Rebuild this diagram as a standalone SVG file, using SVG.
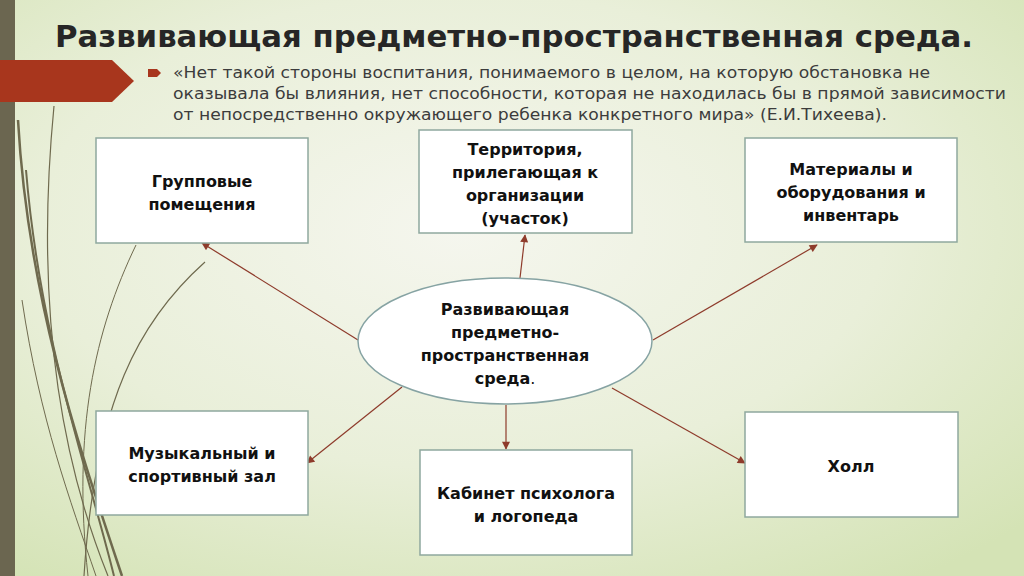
<svg xmlns="http://www.w3.org/2000/svg" width="1024" height="576" viewBox="0 0 1024 576">
<style>
.box{fill:#ffffff;stroke:#8fa89e;stroke-width:1.5}
.lbl{font-family:"DejaVu Sans","Liberation Sans",sans-serif;font-weight:bold;font-size:16px;fill:#111111;text-anchor:middle}
.quote{font-family:"DejaVu Sans","Liberation Sans",sans-serif;font-size:16.5px;fill:#3c3c3c}
.con{stroke:#8e3b2b;stroke-width:1.2;fill:none;marker-end:url(#ah)}
.curve{fill:none;stroke:#6f6a4e}
</style>
<defs>
<radialGradient id="bg" cx="0.45" cy="0.4" r="0.75">
<stop offset="0" stop-color="#f5f6ee"/>
<stop offset="0.55" stop-color="#e9efd9"/>
<stop offset="1" stop-color="#d4e3b5"/>
</radialGradient>
<marker id="ah" viewBox="0 0 10 10" refX="9" refY="5" markerWidth="9" markerHeight="8" markerUnits="userSpaceOnUse" orient="auto">
<path d="M0 0 L10 5 L0 10 Z" fill="#8e3b2b"/>
</marker>
</defs>
<rect x="0" y="0" width="1024" height="576" fill="url(#bg)"/>
<g id="decor">
<rect x="0" y="0" width="15" height="576" fill="#6b6650"/>
<path class="curve" stroke-width="2.5" d="M18 120 C28 300 80 450 122 576"/>
<path class="curve" stroke-width="2" d="M26 170 C40 340 88 470 114 576"/>
<path class="curve" stroke-width="1.2" d="M54 106 C40 250 45 420 108 576"/>
<path class="curve" stroke-width="1" stroke="#9a9878" d="M22 300 C40 420 70 500 96 576"/>
<path class="curve" stroke-width="1.2" d="M205 262 C140 320 95 400 84 576"/>
<path class="curve" stroke-width="1" stroke="#b9bda0" d="M136 245 C95 330 72 430 88 576"/>
<path fill="#a8361d" d="M0 60 L112 60 L134 81 L112 102 L0 102 Z"/>
</g>
<text x="55" y="47" textLength="918" lengthAdjust="spacingAndGlyphs" style="font-family:'DejaVu Sans','Liberation Sans',sans-serif;font-weight:bold;font-size:31px;fill:#262626">Развивающая предметно-пространственная среда.</text>
<path d="M148 69 L157 69 L161 73 L157 77 L148 77 Z" fill="#a8361d"/>
<text class="quote" x="173" y="78" textLength="757" lengthAdjust="spacingAndGlyphs">«Нет такой стороны воспитания, понимаемого в целом, на которую обстановка не</text>
<text class="quote" x="173" y="99" textLength="833" lengthAdjust="spacingAndGlyphs">оказывала бы влияния, нет способности, которая не находилась бы в прямой зависимости</text>
<text class="quote" x="173" y="120" textLength="714" lengthAdjust="spacingAndGlyphs">от непосредственно окружающего ребенка конкретного мира» (Е.И.Тихеева).</text>
<g id="connectors">
<line class="con" x1="358" y1="340" x2="202" y2="243"/>
<line class="con" x1="520" y1="278" x2="525" y2="235"/>
<line class="con" x1="653" y1="340" x2="817" y2="245"/>
<line class="con" x1="402" y1="387" x2="307" y2="463"/>
<line class="con" x1="506" y1="405" x2="506" y2="449"/>
<line class="con" x1="612" y1="388" x2="745" y2="463"/>
</g>
<g id="center">
<ellipse cx="505" cy="341" rx="147" ry="63" fill="#ffffff" stroke="#86a3a3" stroke-width="1.5"/>
<text class="lbl" x="505" y="315">Развивающая</text>
<text class="lbl" x="505" y="338">предметно-</text>
<text class="lbl" x="505" y="361">пространственная</text>
<text class="lbl" x="505" y="384">среда<tspan font-weight="normal">.</tspan></text>
</g>
<g id="group-rooms">
<rect class="box" x="96" y="138" width="212" height="105"/>
<text class="lbl" x="202" y="187">Групповые</text>
<text class="lbl" x="202" y="210">помещения</text>
</g>
<g id="territory">
<rect class="box" x="419" y="130" width="213" height="103"/>
<text class="lbl" x="525" y="155">Территория,</text>
<text class="lbl" x="525" y="178">прилегающая к</text>
<text class="lbl" x="525" y="201">организации</text>
<text class="lbl" x="525" y="224">(участок)</text>
</g>
<g id="materials">
<rect class="box" x="745" y="138" width="212" height="104"/>
<text class="lbl" x="851" y="175">Материалы и</text>
<text class="lbl" x="851" y="198">оборудования и</text>
<text class="lbl" x="851" y="221">инвентарь</text>
</g>
<g id="music-hall">
<rect class="box" x="96" y="411" width="212" height="104"/>
<text class="lbl" x="202" y="459">Музыкальный и</text>
<text class="lbl" x="202" y="482">спортивный зал</text>
</g>
<g id="cabinet">
<rect class="box" x="420" y="450" width="212" height="105"/>
<text class="lbl" x="526" y="499">Кабинет психолога</text>
<text class="lbl" x="526" y="522">и логопеда</text>
</g>
<g id="hall">
<rect class="box" x="745" y="412" width="213" height="105"/>
<text class="lbl" x="851" y="472">Холл</text>
</g>
</svg>
